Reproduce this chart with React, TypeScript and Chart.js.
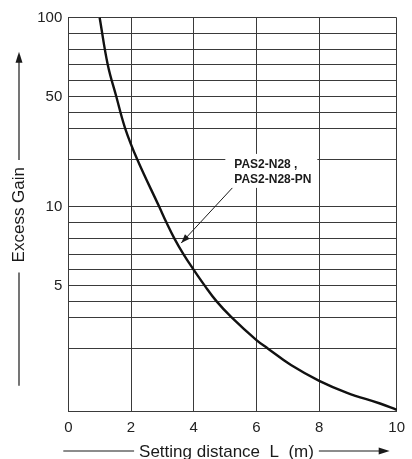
import React, { useEffect, useRef } from 'react';
import { Chart, registerables, LinearScale } from 'chart.js';

Chart.register(...registerables);

// ---- data ----
const distance = [1.0, 1.26, 1.53, 1.81, 2.2, 2.9, 3.13, 3.38, 3.67, 4.0, 4.35, 4.73, 5.2, 6.0, 6.37, 7.1, 8.0, 8.72, 9.57, 10];
const excessGain = [100, 70, 50, 30, 20, 10, 9, 8, 7, 6, 5, 4, 3, 2.27, 2.0, 1.74, 1.49, 1.3, 1.13, 1.03];

// axis grid values (the chart's own non-uniform grid)
const gainGrid = [1, 2, 3, 4, 5, 6, 7, 8, 9, 10, 20, 30, 40, 50, 60, 70, 80, 90, 100];
const gainGridSteps = [0, 4, 6, 7, 8, 9, 10, 11, 12, 13, 16, 18, 19, 20, 21, 22, 23, 24, 25];
const gainLabels = [5, 10, 50, 100];
const distGrid = [0, 2, 4, 6, 8, 10];
const distGridSteps = [0, 2, 4, 6, 8, 10.47];

const seriesLabel = ['PAS2-N28 ,', 'PAS2-N28-PN'];
const yTitle = 'Excess Gain';
const xTitle = 'Setting distance  L  (m)';
// annotation anchor (data coordinates): arrow tip on curve and tail
const pointerTip = [3.6, 7.7];
const pointerTail = [5.23, 14.0];

// piecewise scale following the chart's drawn grid
class StepScale extends LinearScale {
  static id = 'step';
  static defaults = { ticks: { callback: (v: any) => String(v) } };
  toPos(v: number): number {
    const o: any = this.options;
    const b: number[] = o.breaks;
    const p: number[] = o.stops;
    const n = b.length - 1;
    if (v <= b[0]) return p[0] + ((v - b[0]) * (p[1] - p[0])) / (b[1] - b[0]);
    for (let i = 1; i <= n; i++) {
      if (v <= b[i]) return p[i - 1] + ((v - b[i - 1]) / (b[i] - b[i - 1])) * (p[i] - p[i - 1]);
    }
    return p[n] + ((v - b[n]) * (p[n] - p[n - 1])) / (b[n] - b[n - 1]);
  }
  determineDataLimits() {
    const o: any = this.options;
    const p: number[] = o.stops;
    this.min = p[0];
    this.max = p[p.length - 1];
  }
  buildTicks() {
    const o: any = this.options;
    return (o.breaks as number[]).map((v) => ({ value: v }));
  }
  getPixelForValue(v: number) {
    return super.getPixelForValue(this.toPos(v));
  }
}
Chart.register(StepScale as any);

const FONT = '"Liberation Sans", Arial, sans-serif';
const GRID = '#3a3a3a';

function arrowHead(ctx: CanvasRenderingContext2D, fx: number, fy: number, tx: number, ty: number, len: number, half: number) {
  const a = Math.atan2(ty - fy, tx - fx);
  ctx.beginPath();
  ctx.moveTo(tx, ty);
  ctx.lineTo(tx - len * Math.cos(a) + half * Math.sin(a), ty - len * Math.sin(a) - half * Math.cos(a));
  ctx.lineTo(tx - len * Math.cos(a) - half * Math.sin(a), ty - len * Math.sin(a) + half * Math.cos(a));
  ctx.closePath();
  ctx.fill();
}

const decorations = {
  id: 'decorations',
  beforeDatasetsDraw(chart: any) {
    const ctx: CanvasRenderingContext2D = chart.ctx;
    const xs = chart.scales.x;
    const ys = chart.scales.y;
    const tx = xs.getPixelForValue(pointerTip[0]);
    const ty = ys.getPixelForValue(pointerTip[1]);
    const sx = xs.getPixelForValue(pointerTail[0]);
    const sy = ys.getPixelForValue(pointerTail[1]);
    ctx.save();
    ctx.fillStyle = '#fff';
    ctx.fillRect(sx - 7, sy - 34, 92, 34);
    ctx.fillStyle = '#1a1a1a';
    ctx.font = `bold 12px ${FONT}`;
    ctx.textBaseline = 'middle';
    ctx.textAlign = 'left';
    ctx.fillText(seriesLabel[0], sx + 2, sy - 23);
    ctx.fillText(seriesLabel[1], sx + 2, sy - 8);
    ctx.strokeStyle = '#1a1a1a';
    ctx.lineWidth = 1;
    ctx.beginPath();
    ctx.moveTo(sx, sy);
    ctx.lineTo(tx, ty);
    ctx.stroke();
    arrowHead(ctx, sx, sy, tx, ty, 9, 3.2);
    ctx.restore();
  },
  afterDraw(chart: any) {
    const ctx: CanvasRenderingContext2D = chart.ctx;
    const ca = chart.chartArea;
    ctx.save();
    ctx.fillStyle = '#1a1a1a';
    ctx.strokeStyle = '#1a1a1a';
    ctx.lineWidth = 1.2;
    // y title
    ctx.font = `17px ${FONT}`;
    const cy = (ca.top + ca.bottom) / 2;
    const wy = ctx.measureText(yTitle).width;
    ctx.save();
    ctx.translate(24, cy);
    ctx.rotate(-Math.PI / 2);
    ctx.textAlign = 'center';
    ctx.textBaseline = 'alphabetic';
    ctx.fillText(yTitle, 0, 0);
    ctx.restore();
    const lx = 19;
    ctx.beginPath();
    ctx.moveTo(lx, cy - wy / 2 - 7);
    ctx.lineTo(lx, ca.top + 44);
    ctx.stroke();
    arrowHead(ctx, lx, cy, lx, ca.top + 34, 11, 3.5);
    ctx.beginPath();
    ctx.moveTo(lx, cy + wy / 2 + 10);
    ctx.lineTo(lx, ca.bottom - 26);
    ctx.stroke();
    // x title
    ctx.font = `17px ${FONT}`;
    const cx = (ca.left + ca.right) / 2 - 6;
    const wx = ctx.measureText(xTitle).width;
    ctx.textAlign = 'center';
    ctx.textBaseline = 'alphabetic';
    ctx.fillText(xTitle, cx, 457);
    const ly = 451;
    ctx.beginPath();
    ctx.moveTo(ca.left - 5, ly);
    ctx.lineTo(cx - wx / 2 - 5, ly);
    ctx.stroke();
    ctx.beginPath();
    ctx.moveTo(cx + wx / 2 + 5, ly);
    ctx.lineTo(ca.right - 15, ly);
    ctx.stroke();
    arrowHead(ctx, cx, ly, ca.right - 7, ly, 11, 3.5);
    ctx.restore();
  },
};

export default function App() {
  const ref = useRef<HTMLCanvasElement>(null);
  useEffect(() => {
    if (!ref.current) return;
    const chart = new Chart(ref.current, {
      type: 'line',
      data: {
        datasets: [
          {
            data: distance.map((d, i) => ({ x: d, y: excessGain[i] })),
            borderColor: '#111',
            borderWidth: 2.4,
            pointRadius: 0,
            fill: false,
            tension: 0.4,
          },
        ],
      },
      options: {
        animation: false,
        responsive: false,
        events: [],
        layout: { padding: { left: 0, right: 12, top: 17.7, bottom: 0 } },
        plugins: { legend: { display: false }, tooltip: { enabled: false } },
        scales: {
          x: {
            type: 'step' as any,
            breaks: distGrid,
            stops: distGridSteps,
            grid: { color: GRID, lineWidth: 1, drawTicks: false },
            border: { color: GRID, width: 1 },
            ticks: {
              autoSkip: false,
              maxRotation: 0,
              padding: 7,
              color: '#222',
              font: { family: FONT, size: 15 },
              callback: (v: any) => String(v),
            },
            afterFit: (s: any) => {
              s.height = 47.3;
            },
          } as any,
          y: {
            type: 'step' as any,
            breaks: gainGrid,
            stops: gainGridSteps,
            grid: { color: GRID, lineWidth: 1, drawTicks: false },
            border: { color: GRID, width: 1 },
            ticks: {
              autoSkip: false,
              padding: 6,
              color: '#222',
              font: { family: FONT, size: 15 },
              callback: (v: any) => (gainLabels.includes(v) ? String(v) : ''),
            },
            afterFit: (s: any) => {
              s.width = 68.3;
            },
          } as any,
        },
      } as any,
      plugins: [decorations],
    });
    return () => chart.destroy();
  }, []);
  return (
    <div style={{ position: 'absolute', left: 0, top: 0, width: 412, height: 459, background: '#fff' }}>
      <canvas ref={ref} width={412} height={459} style={{ display: 'block' }} />
    </div>
  );
}
